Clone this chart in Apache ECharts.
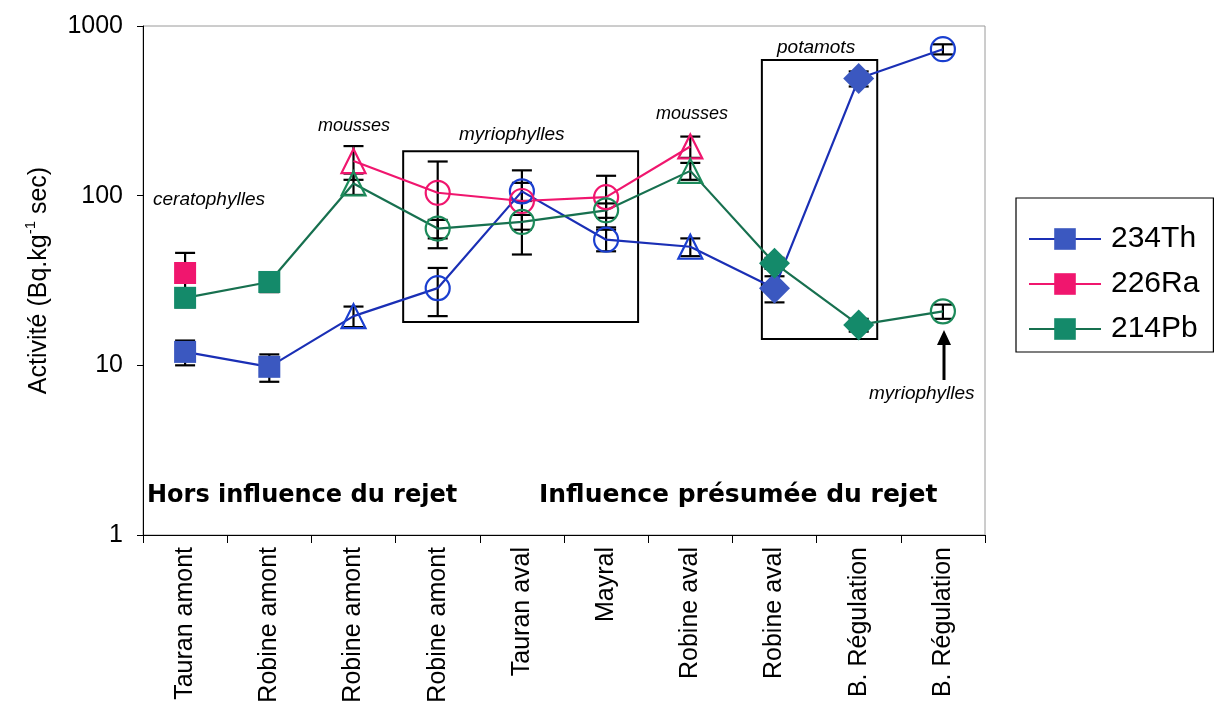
<!DOCTYPE html>
<html><head><meta charset="utf-8">
<script src="https://cdn.jsdelivr.net/npm/echarts/dist/echarts.min.js"></script>
<style>html,body{margin:0;padding:0;background:#fff}#c{width:1223px;height:727px}</style>
</head><body><div id="c"></div>
<script>
const categories = ['Tauran amont','Robine amont','Robine amont','Robine amont','Tauran aval','Mayral','Robine aval','Robine aval','B. Régulation','B. Régulation'];
const seriesNames = ['234Th','226Ra','214Pb'];
const th    = [12, 9.8, 19.5, 28.5, 106, 55, 50, 28.5, 490, 730];
const thErr = [2, 1.8, 2.7, 9, 13, 8, 6, 5, 50, 50];
const ra    = [35, null, 160, 104, 93, 98, 195, null, null, null];
const raErr = [11, 0, 36, 55, 48, 33, 28, 0, 0, 0];
const pb    = [25, 31, 118, 64, 70, 82, 140, 40, 17.3, 20.8];
const pbErr = [3, 4, 17, 8, 7, 8, 16, 3, 1.5, 2];
const pointShapes = ['rect','rect','triangle','circle','circle','circle','triangle','diamond','diamond','circle'];
const yTicks = [1, 10, 100, 1000];
// annotation frames in data units: [xFrom, xTo, yFrom, yTo]
const frames = [[2.59, 5.38, 18, 183], [6.85, 8.22, 14.3, 630]];

const lineColors = ['#1a2fb5', '#f0166e', '#17704f'];
const markColors = ['#3b58c0', '#f0166e', '#148a6a'];
const hollowColors = ['#1a3fd0', '#f0166e', '#1c8a5a'];
const sizes = {rect: 22, triangle: 24, circle: 24, diamond: 31};

function items(vals, k) {
  return vals.map((v, i) => {
    if (v == null) return '-';
    const s = pointShapes[i];
    const hollow = (s === 'circle' || s === 'triangle');
    return {
      value: v, symbol: s, symbolSize: sizes[s],
      itemStyle: hollow ? {color: 'rgba(255,255,255,0)', borderColor: hollowColors[k], borderWidth: 2.2}
                        : {color: markColors[k], borderWidth: 0}
    };
  });
}
function errData(vals, errs) {
  const out = [];
  vals.forEach((v, i) => { if (v != null && errs[i] > 0) out.push([i, v - errs[i], v + errs[i]]); });
  return out;
}
function errSeries(vals, errs) {
  return {
    type: 'custom', z: 1, silent: true,
    data: errData(vals, errs), encode: {x: 0, y: [1, 2]},
    renderItem: (params, api) => {
      const i = api.value(0);
      const p1 = api.coord([i, api.value(2)]);
      const p2 = api.coord([i, api.value(1)]);
      const w = 10, st = {stroke: '#000', lineWidth: 2.2};
      return {type: 'group', children: [
        {type: 'line', shape: {x1: p1[0], y1: p1[1], x2: p2[0], y2: p2[1]}, style: st},
        {type: 'line', shape: {x1: p1[0]-w, y1: p1[1], x2: p1[0]+w, y2: p1[1]}, style: st},
        {type: 'line', shape: {x1: p2[0]-w, y1: p2[1], x2: p2[0]+w, y2: p2[1]}, style: st}
      ]};
    }
  };
}

const chart = echarts.init(document.getElementById('c'));
const FF = '"Liberation Sans", Arial, sans-serif';
const lineSeries = [th, ra, pb].map((vals, k) => ({
  name: seriesNames[k], type: 'line', z: 3,
  data: items(vals, k), connectNulls: false,
  symbol: 'rect', symbolSize: 22,
  lineStyle: {color: lineColors[k], width: 2.2},
  itemStyle: {color: markColors[k]},
  emphasis: {disabled: true}
}));
const italic = 'italic 19px "Liberation Sans"';

chart.setOption({
  animation: false,
  backgroundColor: '#fff',
  grid: {left: 143, right: 238, top: 26, bottom: 192, show: true, borderColor: '#9a9a9a', borderWidth: 1},
  legend: {
    data: seriesNames, orient: 'vertical', left: 1016, top: 198,
    padding: [26, 14, 8, 12], itemGap: 15,
    borderColor: '#000', borderWidth: 1.2,
    itemWidth: 72, itemHeight: 27,
    textStyle: {fontSize: 30, color: '#000', fontFamily: FF, padding: [0, 0, 0, 5]}
  },
  xAxis: [{
    type: 'category', data: categories, boundaryGap: true,
    axisLine: {lineStyle: {color: '#000', width: 1}},
    axisTick: {show: true, length: 8, lineStyle: {color: '#000'}},
    axisLabel: {rotate: 90, interval: 0, fontSize: 25, color: '#000', fontFamily: FF, margin: 12}
  }, {
    type: 'value', min: -0.5, max: 9.5, show: false
  }],
  yAxis: {
    type: 'log', logBase: 10, min: yTicks[0], max: yTicks[yTicks.length - 1],
    axisLine: {show: true, onZero: false, lineStyle: {color: '#000', width: 1}},
    axisTick: {show: true, length: 6, lineStyle: {color: '#000'}},
    minorTick: {show: false}, splitLine: {show: false},
    axisLabel: {fontSize: 25, color: '#000', fontFamily: FF, margin: 20, formatter: v => String(v)},
    name: '{a|Activité (Bq.kg}{s|-1}{a| sec)}', nameLocation: 'middle', nameGap: 88, nameRotate: 90,
    nameTextStyle: {rich: {
      a: {fontSize: 25, fontFamily: FF, color: '#000', lineHeight: 32},
      s: {fontSize: 15, fontFamily: FF, color: '#000', verticalAlign: 'top', lineHeight: 32, padding: [0, 0, 12, 0]}
    }}
  },
  series: [
    {
      type: 'custom', xAxisIndex: 1, z: 0, silent: true,
      data: frames, encode: {x: [0, 1], y: [2, 3]},
      renderItem: (params, api) => {
        const a = api.coord([api.value(0), api.value(3)]);
        const b = api.coord([api.value(1), api.value(2)]);
        return {type: 'rect', shape: {x: a[0], y: a[1], width: b[0] - a[0], height: b[1] - a[1]},
          style: {fill: 'none', stroke: '#000', lineWidth: 2}};
      }
    },
    errSeries(th, thErr), errSeries(ra, raErr), errSeries(pb, pbErr),
    ...lineSeries
  ],
  graphic: [
    {type: 'text', left: 153, top: 190, style: {text: 'ceratophylles', font: italic, fill: '#000'}},
    {type: 'text', left: 318, top: 117, style: {text: 'mousses', font: 'italic 18px "Liberation Sans"', fill: '#000'}},
    {type: 'text', left: 459, top: 125, style: {text: 'myriophylles', font: italic, fill: '#000'}},
    {type: 'text', left: 656, top: 105, style: {text: 'mousses', font: 'italic 18px "Liberation Sans"', fill: '#000'}},
    {type: 'text', left: 777, top: 38, style: {text: 'potamots', font: italic, fill: '#000'}},
    {type: 'text', left: 869, top: 384, style: {text: 'myriophylles', font: italic, fill: '#000'}},
    {type: 'line', shape: {x1: 944, y1: 380, x2: 944, y2: 340}, style: {stroke: '#000', lineWidth: 3}},
    {type: 'polygon', shape: {points: [[944, 330], [937, 345], [951, 345]]}, style: {fill: '#000'}},
    {type: 'text', left: 147, top: 484, style: {text: 'Hors influence du rejet', font: 'bold 24px "DejaVu Sans"', fill: '#000'}},
    {type: 'text', left: 539, top: 483, style: {text: 'Influence présumée du rejet', font: 'bold 25px "DejaVu Sans"', fill: '#000'}}
  ]
});
</script></body></html>
